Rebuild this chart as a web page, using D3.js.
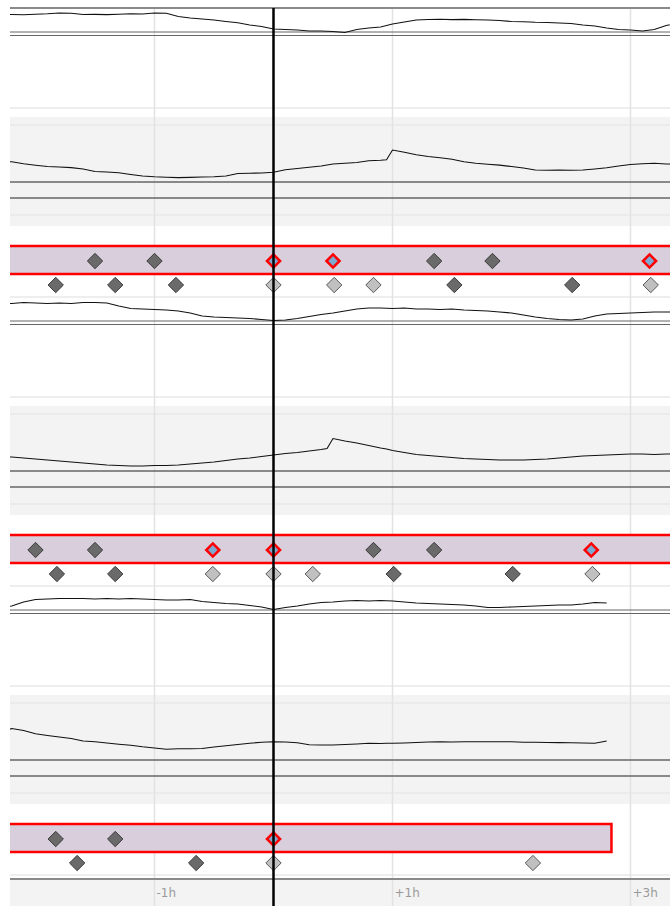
<!DOCTYPE html>
<html>
<head>
<meta charset="utf-8">
<script src="https://cdn.jsdelivr.net/npm/d3@7"></script>
<style>
  html, body { margin: 0; padding: 0; background: #fff; }
  svg { display: block; }
</style>
</head>
<body>
<svg id="chart" width="670" height="906"></svg>
<script>
// ---- data -------------------------------------------------------------
// hours relative to "now"
const sparkTimes = [-2.3,-2.2,-2.1,-2.0,-1.9,-1.8,-1.7,-1.6,-1.5,-1.4,-1.3,-1.2,-1.1,-1.0,-0.9,-0.8,-0.7,-0.6,-0.5,-0.4,-0.3,-0.2,-0.1,0,0.1,0.2,0.3,0.4,0.5,0.6,0.7,0.8,0.9,1.0,1.1,1.2,1.3,1.4,1.5,1.6,1.7,1.8,1.9,2.0,2.1,2.2,2.3,2.4,2.5,2.6,2.7,2.8,2.9,3.0,3.1,3.2,3.3,3.4];

const sparkDay1 = [21.5,21.5,21.3,21.7,22.2,23,22.7,21.5,21.6,21.4,21.7,22.2,22,23,22.8,19.5,18,17,16,14.5,13.2,11,9.5,7,6.5,6,5,5,4.5,3.5,6.5,8,9,12,14,16,16.5,16.7,16.4,16.6,16.3,16,15.5,14.5,14.2,13.7,13.5,13,12.5,11,10,8,6.5,6,5,6.5,10.5,13];
const sparkDay2 = [22,21.5,22.5,22,21.5,22,21.5,22.5,22.5,22,19,16.5,16,15.5,15,14,12,9,8,7.5,7,6.5,5.5,4.5,5,6.5,8.5,10.5,12,14,16,17,17,16.5,17,16,16,15.5,16,15,14.5,14,13,12,10,8,6.5,5.5,5,6,9,11,11.5,12,12.5,13,13,13];
const sparkDay3 = [6,8,12,14.5,15,15.5,15.5,15.5,15,15.5,15,15.5,15,14.5,14,14,14.5,12.5,11.5,10.5,10,8.5,7,4.5,6.5,8,10,11.5,12,13,13.5,13,13.5,13,12,11,10.5,10,9.5,9,8,6.5,6.5,7,7.5,8,8.5,9,9,10,11.5,11,null,null,null,null,null,null];
const sparkBase = [4, 0.5];

const levelTimes = [-2.3,-2.2,-2.1,-2.0,-1.9,-1.8,-1.7,-1.6,-1.5,-1.4,-1.3,-1.2,-1.1,-1.0,-0.9,-0.8,-0.7,-0.6,-0.5,-0.4,-0.3,-0.2,-0.1,0,0.1,0.2,0.3,0.4,0.45,0.5,0.6,0.7,0.8,0.9,0.95,1.0,1.1,1.2,1.3,1.4,1.5,1.6,1.7,1.8,1.9,2.0,2.1,2.2,2.3,2.4,2.5,2.6,2.7,2.8,2.9,3.0,3.1,3.2,3.3,3.4];

const levelDay1 = [64,63.2,61.2,59.8,58.5,58,57.4,56,53.5,53,52.2,50.5,49,48.2,47.7,47.4,47.6,48,48.3,49,51.5,51.8,52,52.7,55.2,56.5,57.7,59,60,61,61.8,62.5,64.3,64.8,65.2,75,72.8,70.3,68.5,67.2,65.7,63.2,61.7,60.8,59.9,58.5,57,55,54.8,55,54.7,55,56,57.2,59,60.5,61.2,61.7,61,61.2];
const levelDay2 = [57,57,56,55,54,53,52,51,50,49,48.5,48,48,48.5,48.5,49,50,51,52,53.5,55,56,57.5,59,60.5,61.5,63,64.5,65.5,75.5,73,71,68.5,66,65,63.5,61.5,59.5,58.5,57.5,56.5,55.5,55,54.5,54,54,54,54.5,55,56,57,58,58.5,59,59.5,60,60,59.5,60,60];
const levelDay3 = [70,74.5,72.5,69.2,67.5,66,64.5,62,61.2,60,58.8,57.8,56.2,55,53.7,54.2,54.3,54.5,56,57.2,58.5,59.7,60.8,61.3,61,60.2,58.2,58,58,58,58.5,59,59.7,59.5,59.7,59.7,60,60.5,61,61.3,61,61.3,61.3,61.2,61.3,61.2,60.8,60.7,60.5,60.4,60.3,60,59.7,62,null,null,null,null,null,null];
const refLevels = [43, 27];

// event markers (hours)
const upperDark1 = [-1.5, -1.0, 1.35, 1.84];
const upperMarked1 = [0, 0.5, 3.16];
const lowerDark1 = [-1.83, -1.33, -0.82, 1.52, 2.51];
const lowerLight1 = [0, 0.51, 0.84, 3.17];

const upperDark2 = [-2.0, -1.5, 0.84, 1.35];
const upperMarked2 = [-0.51, 0, 2.67];
const lowerDark2 = [-1.82, -1.33, 1.01, 2.01];
const lowerLight2 = [-0.51, 0, 0.33, 2.68];

const upperDark3 = [-1.83, -1.33];
const upperMarked3 = [0];
const lowerDark3 = [-1.65, -0.65];
const lowerLight3 = [0, 2.18];

const coverageEnd = [3.6, 3.6, 2.84];

const tickHours = [-1, 1, 3];
const tickLabels = ["-1h", "+1h", "+3h"];

// ---- layout -----------------------------------------------------------
const W = 670, H = 906;
const left = 10, right = 670;
const x = d3.scaleLinear([-2.2143, 3.3319], [left, right]);
const sparkY = d3.scaleLinear([0, 28], [36, 8]);
const levelY = d3.scaleLinear([0, 100], [225, 125]);
const panelStep = 289;
const axisY = 879;

const svg = d3.select("#chart");
svg.append("defs").append("clipPath").attr("id", "plot")
  .append("rect").attr("x", left).attr("y", 0).attr("width", right - left).attr("height", H);

const root = svg.append("g").attr("clip-path", "url(#plot)");

const days = [
  { spark: sparkDay1, level: levelDay1, ud: upperDark1, um: upperMarked1, ld: lowerDark1, ll: lowerLight1 },
  { spark: sparkDay2, level: levelDay2, ud: upperDark2, um: upperMarked2, ld: lowerDark2, ll: lowerLight2 },
  { spark: sparkDay3, level: levelDay3, ud: upperDark3, um: upperMarked3, ld: lowerDark3, ll: lowerLight3 }
];

// background bands for each day
days.forEach((d, i) => {
  const g = root.append("g").attr("transform", `translate(0,${i * panelStep})`);
  g.append("rect").attr("x", left).attr("width", right - left)
    .attr("y", 117).attr("height", 109).attr("fill", "#f3f3f3");
});

// axis background
root.append("rect").attr("x", left).attr("width", right - left)
  .attr("y", axisY).attr("height", H - axisY).attr("fill", "#f3f3f3");

// faint horizontal guides
const guides = [];
for (let i = 0; i < 3; i++) {
  const o = i * panelStep;
  if (i > 0) guides.push(o + 8);
  guides.push(o + 108, o + 125, o + 215);
}
guides.push(3 * panelStep + 8);
root.selectAll(".guide").data(guides).join("line")
  .attr("x1", left).attr("x2", right).attr("y1", d => d).attr("y2", d => d)
  .attr("stroke", "#e8e8e8").attr("stroke-width", 1.5);

// vertical hour grid
root.selectAll(".vgrid").data(tickHours).join("line")
  .attr("x1", d => x(d)).attr("x2", d => x(d)).attr("y1", 8).attr("y2", H)
  .attr("stroke", "#e2e2e2").attr("stroke-width", 1.5);

const sparkLine = d3.line().defined(d => d[1] != null)
  .x(d => x(d[0])).y(d => sparkY(d[1]));
const levelLine = d3.line().defined(d => d[1] != null)
  .x(d => x(d[0])).y(d => levelY(d[1]));

const diamond = d3.symbol().type(d3.symbolDiamond2);

days.forEach((d, i) => {
  const g = root.append("g").attr("transform", `translate(0,${i * panelStep})`);

  // sparkline baselines
  g.selectAll(".sb").data(sparkBase).join("line")
    .attr("x1", left).attr("x2", right)
    .attr("y1", v => sparkY(v)).attr("y2", v => sparkY(v))
    .attr("stroke", "#666").attr("stroke-width", 1.2);

  g.append("path")
    .attr("d", sparkLine(sparkTimes.map((t, k) => [t, d.spark[k]])))
    .attr("fill", "none").attr("stroke", "#111").attr("stroke-width", 1.1);

  // reference levels
  g.selectAll(".rl").data(refLevels).join("line")
    .attr("x1", left).attr("x2", right)
    .attr("y1", v => levelY(v)).attr("y2", v => levelY(v))
    .attr("stroke", "#666").attr("stroke-width", 1.3);

  g.append("path")
    .attr("d", levelLine(levelTimes.map((t, k) => [t, d.level[k]])))
    .attr("fill", "none").attr("stroke", "#111").attr("stroke-width", 1.1);

  // event band
  const x0 = x(-2.4), x1 = x(coverageEnd[i]);
  g.append("rect").attr("x", x0).attr("width", x1 - x0)
    .attr("y", 246).attr("height", 28)
    .attr("fill", "#d9cedb").attr("stroke", "#ff0000").attr("stroke-width", 2.5);

  g.selectAll(".ud").data(d.ud).join("path")
    .attr("transform", t => `translate(${x(t)},261)`)
    .attr("d", diamond.size(150)())
    .attr("fill", "#6a6a6a").attr("stroke", "#3c3c3c").attr("stroke-width", 1);

  g.selectAll(".um").data(d.um).join("path")
    .attr("transform", t => `translate(${x(t)},261)`)
    .attr("d", diamond.size(110)())
    .attr("fill", "#7eaad2").attr("stroke", "#ff0000").attr("stroke-width", 2.5);

  g.selectAll(".ld").data(d.ld).join("path")
    .attr("transform", t => `translate(${x(t)},285)`)
    .attr("d", diamond.size(150)())
    .attr("fill", "#6a6a6a").attr("stroke", "#3c3c3c").attr("stroke-width", 1);

  g.selectAll(".ll").data(d.ll).join("path")
    .attr("transform", t => `translate(${x(t)},285)`)
    .attr("d", diamond.size(150)())
    .attr("fill", "#c0c0c0").attr("stroke", "#5a5a5a").attr("stroke-width", 1);
});

// top border and time axis line
root.append("line").attr("x1", left).attr("x2", right).attr("y1", 8).attr("y2", 8)
  .attr("stroke", "#8a8a8a").attr("stroke-width", 2);
root.append("line").attr("x1", left).attr("x2", right).attr("y1", axisY).attr("y2", axisY)
  .attr("stroke", "#8a8a8a").attr("stroke-width", 2);

// tick labels
root.selectAll(".tl").data(tickHours).join("text")
  .attr("x", d => x(d) + 2).attr("y", 897)
  .attr("font-family", "DejaVu Sans, Verdana, sans-serif").attr("font-size", 12)
  .attr("fill", "#9a9a9a")
  .text((d, i) => tickLabels[i]);

// current time marker
root.append("line").attr("x1", x(0)).attr("x2", x(0)).attr("y1", 8).attr("y2", H)
  .attr("stroke", "#000").attr("stroke-width", 2.5);
</script>
</body>
</html>
